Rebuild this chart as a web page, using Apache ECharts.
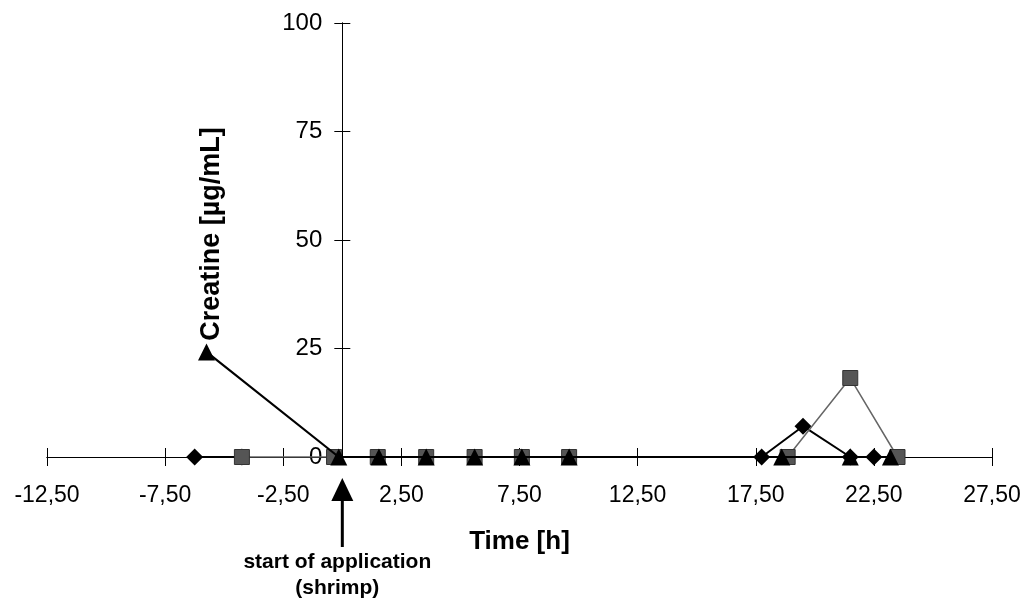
<!DOCTYPE html>
<html>
<head>
<meta charset="utf-8">
<title>Creatine</title>
<script src="https://cdn.jsdelivr.net/npm/echarts@6/dist/echarts.min.js"></script>
<style>
  html, body { margin: 0; padding: 0; background: #fff; }
  #chart { width: 1031px; height: 606px; }
</style>
</head>
<body>
<div id="chart"></div>
<script>
// time in hours, creatine in µg/mL; null = gap in the line
const diamondTime = [-6.25, -4.25, null, 17.75, 19.5, 21.5, 22.5];
const diamondVal = [0, 0, null, 0, 7.1, 0, 0];

const squareTime = [-4.25, -0.35, 1.5, 3.55, 5.6, 7.6, 9.6, 18.85, 21.5, 23.5];
const squareVal = [0, 0, 0, 0, 0, 0, 0, 0, 18.2, 0];

const triangleTime = [-5.75, -0.15, 1.55, 3.55, 5.6, 7.6, 9.6, 18.6, 21.5, 23.2];
const triangleVal = [24.2, 0, 0, 0, 0, 0, 0, 0, 0, 0];

const xTicks = { min: -12.5, max: 27.5, step: 5 };
const yTicks = { min: 0, max: 100, step: 25 };

const FONT = "Liberation Sans, Arial, sans-serif";
const GRID = { left: 47, right: 39, top: 23, bottom: 149 };
const W = 1031;
const H = 606;

function pairs(times, vals) {
  return times.map((t, i) => (t == null ? "-" : [t, vals[i]]));
}

function fmtComma(v) {
  return v.toFixed(2).replace(".", ",");
}

// the value axis crosses the time axis at t = 0, not at the left edge
const gridWidth = W - GRID.left - GRID.right;
const gridHeight = H - GRID.top - GRID.bottom;
const zeroFromLeft = ((0 - xTicks.min) / (xTicks.max - xTicks.min)) * gridWidth;

const chart = echarts.init(document.getElementById("chart"));

const axisLine = { show: true, onZero: false, lineStyle: { color: "#000", width: 1 } };
const tickStyle = { color: "#000", width: 1 };

// Ticks in the original cross the axis line: each axis is drawn twice,
// once from its own side and once from the opposite side moved onto it.
function xAxisBase(position, offset) {
  return {
    type: "value",
    position: position,
    offset: offset,
    min: xTicks.min,
    max: xTicks.max,
    interval: xTicks.step,
    splitLine: { show: false },
    axisLine: axisLine,
    axisTick: { show: true, inside: false, length: 9, lineStyle: tickStyle },
  };
}

function yAxisBase(position, offset) {
  return {
    type: "value",
    position: position,
    offset: offset,
    min: yTicks.min,
    max: yTicks.max,
    interval: yTicks.step,
    splitLine: { show: false },
    axisLine: axisLine,
    axisTick: { show: true, inside: false, length: 8, lineStyle: tickStyle },
  };
}

const option = {
  animation: false,
  backgroundColor: "#fff",
  grid: Object.assign({ containLabel: false, outerBoundsMode: "none" }, GRID),
  xAxis: [
    Object.assign(xAxisBase("bottom", 0), {
      axisLabel: {
        color: "#000",
        fontFamily: FONT,
        fontSize: 23,
        margin: 27,
        formatter: fmtComma,
      },
      name: "Time [h]",
      nameLocation: "middle",
      nameGap: 72,
      nameTextStyle: { color: "#000", fontFamily: FONT, fontSize: 26, fontWeight: "bold" },
    }),
    Object.assign(xAxisBase("top", -gridHeight), { axisLabel: { show: false } }),
  ],
  yAxis: [
    Object.assign(yAxisBase("left", -zeroFromLeft), {
      axisLabel: { color: "#000", fontFamily: FONT, fontSize: 24, margin: 20 },
      name: "Creatine [µg/mL]",
      nameLocation: "middle",
      nameGap: 117,
      nameTextStyle: {
        color: "#000",
        fontFamily: FONT,
        fontSize: 27,
        fontWeight: "bold",
        padding: [0, 0, 0, 12],
      },
    }),
    Object.assign(yAxisBase("right", -(gridWidth - zeroFromLeft)), { axisLabel: { show: false } }),
  ],
  series: [
    {
      type: "line",
      name: "diamond",
      data: pairs(diamondTime, diamondVal),
      symbol: "diamond",
      symbolSize: 17,
      connectNulls: false,
      itemStyle: { color: "#000" },
      lineStyle: { color: "#000", width: 2 },
      z: 2,
    },
    {
      type: "line",
      name: "square",
      data: pairs(squareTime, squareVal),
      symbol: "rect",
      symbolSize: 15,
      itemStyle: { color: "#555", borderColor: "#333", borderWidth: 1 },
      lineStyle: { color: "#666", width: 1.5 },
      z: 3,
    },
    {
      type: "line",
      name: "triangle",
      data: pairs(triangleTime, triangleVal),
      symbol: "triangle",
      symbolSize: 17,
      itemStyle: { color: "#000" },
      lineStyle: { color: "#000", width: 2.2 },
      z: 4,
    },
  ],
};

chart.setOption(option);

// arrow + note under the x axis marking the start of application (t = 0)
const [ax, ay] = chart.convertToPixel({ xAxisIndex: 0, yAxisIndex: 0 }, [0, 0]);
chart.setOption({
  graphic: [
    {
      type: "polygon",
      shape: { points: [[ax, ay + 21], [ax - 11, ay + 44], [ax + 11, ay + 44]] },
      style: { fill: "#000" },
    },
    {
      type: "line",
      shape: { x1: ax, y1: ay + 42, x2: ax, y2: ay + 90 },
      style: { stroke: "#000", lineWidth: 3 },
    },
    {
      type: "text",
      x: ax - 5,
      y: ay + 118,
      style: {
        text: "start of application\n(shrimp)",
        fill: "#000",
        font: "bold 21px " + FONT,
        align: "center",
        verticalAlign: "middle",
        lineHeight: 26,
      },
    },
  ],
});
</script>
</body>
</html>
